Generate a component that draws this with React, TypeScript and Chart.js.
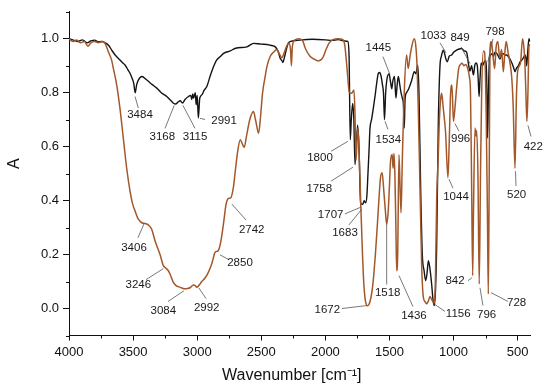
import React, { useEffect, useRef } from 'react';
import { Chart, registerables } from 'chart.js';

Chart.register(...registerables);

// ---- Spectrum 1 (black) ----
const blackWn = [4000, 3965, 3930, 3895, 3860, 3830, 3800, 3770, 3745, 3718, 3690, 3667, 3640, 3602, 3580, 3563, 3540, 3524, 3505, 3495, 3484, 3472, 3459, 3432, 3393, 3350, 3315, 3280, 3237, 3200, 3185, 3168, 3150, 3133, 3115, 3095, 3068, 3050, 3042, 3035, 3028, 3015, 3008, 3000, 2991, 2980, 2964, 2945, 2925, 2900, 2872, 2850, 2820, 2794, 2742, 2700, 2612, 2560, 2500, 2456, 2420, 2391, 2370, 2352, 2340, 2331, 2320, 2305, 2290, 2270, 2200, 2100, 2000, 1950, 1900, 1850, 1825, 1815, 1806, 1798, 1787, 1778, 1769, 1760, 1748, 1738, 1725, 1709, 1697, 1686, 1676, 1668, 1660, 1652, 1640, 1626, 1612, 1600, 1587, 1576, 1565, 1555, 1547, 1539, 1530, 1520, 1503, 1492, 1482, 1475, 1461, 1450, 1440, 1431, 1420, 1410, 1400, 1392, 1385, 1378, 1367, 1350, 1327, 1307, 1294, 1280, 1270, 1257, 1244, 1230, 1218, 1207, 1197, 1185, 1171, 1160, 1150, 1140, 1132, 1119, 1106, 1095, 1081, 1070, 1060, 1048, 1035, 1015, 1000, 976, 956, 937, 918, 898, 885, 872, 860, 845, 835, 826, 815, 808, 801, 794, 785, 775, 765, 752, 742, 735, 728, 720, 711, 700, 690, 677, 662, 650, 638, 625, 612, 600, 586, 575, 560, 545, 530, 521, 510, 495, 480, 469, 455, 443, 435, 430, 422, 412, 405];
const blackA = [1.0, 0.995, 0.99, 0.996, 0.985, 0.992, 0.995, 0.988, 0.99, 0.985, 0.975, 0.958, 0.94, 0.921, 0.91, 0.903, 0.885, 0.872, 0.85, 0.835, 0.80, 0.83, 0.847, 0.86, 0.847, 0.83, 0.817, 0.80, 0.786, 0.768, 0.761, 0.758, 0.765, 0.77, 0.762, 0.775, 0.786, 0.79, 0.775, 0.795, 0.78, 0.80, 0.755, 0.79, 0.706, 0.78, 0.792, 0.81, 0.823, 0.86, 0.897, 0.92, 0.934, 0.946, 0.955, 0.965, 0.97, 0.983, 0.98, 0.979, 0.975, 0.97, 0.955, 0.927, 0.92, 0.912, 0.93, 0.96, 0.983, 0.99, 0.995, 0.998, 0.996, 0.994, 0.997, 0.992, 0.99, 0.93, 0.626, 0.70, 0.76, 0.70, 0.534, 0.60, 0.68, 0.60, 0.39, 0.386, 0.40, 0.392, 0.42, 0.50, 0.58, 0.669, 0.70, 0.743, 0.79, 0.835, 0.872, 0.875, 0.86, 0.83, 0.80, 0.70, 0.80, 0.85, 0.87, 0.84, 0.815, 0.84, 0.86, 0.78, 0.83, 0.86, 0.83, 0.80, 0.78, 0.76, 0.669, 0.78, 0.80, 0.815, 0.845, 0.878, 0.87, 0.903, 0.80, 0.448, 0.20, 0.14, 0.103, 0.13, 0.177, 0.15, 0.09, 0.03, 0.011, 0.08, 0.23, 0.69, 0.90, 0.935, 0.958, 0.945, 0.925, 0.915, 0.935, 0.94, 0.95, 0.958, 0.962, 0.964, 0.955, 0.95, 0.91, 0.88, 0.90, 0.866, 0.90, 0.91, 0.90, 0.85, 0.786, 0.85, 0.91, 0.90, 0.91, 0.92, 0.86, 0.632, 0.80, 0.93, 0.94, 0.945, 0.935, 0.95, 0.945, 0.935, 0.925, 0.94, 0.945, 0.94, 0.94, 0.935, 0.925, 0.91, 0.89, 0.878, 0.89, 0.90, 0.915, 0.92, 0.93, 0.94, 0.925, 0.90, 0.95, 1.0, 0.99];

// ---- Spectrum 2 (brown) ----
const brownWn = [4000, 3970, 3940, 3910, 3880, 3852, 3830, 3800, 3770, 3740, 3719, 3693, 3667, 3654, 3628, 3602, 3576, 3550, 3524, 3505, 3485, 3459, 3432, 3406, 3381, 3355, 3329, 3290, 3264, 3246, 3225, 3212, 3186, 3165, 3147, 3120, 3095, 3075, 3056, 3030, 3015, 3004, 2990, 2978, 2965, 2939, 2913, 2887, 2870, 2861, 2847, 2835, 2817, 2796, 2775, 2757, 2739, 2718, 2703, 2685, 2664, 2648, 2633, 2615, 2590, 2561, 2545, 2521, 2508, 2490, 2470, 2456, 2430, 2405, 2378, 2360, 2340, 2320, 2300, 2285, 2272, 2265, 2258, 2240, 2210, 2180, 2156, 2120, 2090, 2055, 2020, 1995, 1970, 1940, 1900, 1870, 1855, 1847, 1829, 1813, 1795, 1777, 1769, 1762, 1755, 1748, 1740, 1724, 1712, 1700, 1690, 1680, 1672, 1660, 1645, 1632, 1622, 1610, 1596, 1583, 1570, 1557, 1545, 1530, 1522, 1510, 1500, 1492, 1479, 1472, 1465, 1458, 1450, 1444, 1436, 1426, 1418, 1410, 1400, 1385, 1367, 1354, 1340, 1327, 1307, 1295, 1285, 1276, 1262, 1249, 1236, 1222, 1210, 1195, 1184, 1172, 1160, 1150, 1142, 1132, 1119, 1111, 1100, 1093, 1080, 1063, 1044, 1035, 1023, 1013, 1001, 990, 976, 960, 945, 933, 920, 905, 890, 877, 868, 859, 851, 845, 833, 826, 820, 810, 800, 790, 781, 768, 758, 745, 736, 729, 722, 716, 706, 695, 680, 668, 655, 640, 625, 612, 600, 590, 575, 560, 547, 535, 521, 510, 500, 478, 462, 450, 443, 436, 428, 420, 412, 405];
const brownA = [1.0, 0.99, 0.995, 0.985, 0.99, 0.972, 0.985, 0.99, 0.985, 0.99, 0.983, 0.952, 0.92, 0.89, 0.829, 0.74, 0.63, 0.52, 0.435, 0.39, 0.362, 0.331, 0.318, 0.315, 0.31, 0.294, 0.251, 0.20, 0.159, 0.15, 0.14, 0.128, 0.097, 0.085, 0.081, 0.076, 0.073, 0.074, 0.077, 0.087, 0.085, 0.079, 0.084, 0.091, 0.10, 0.113, 0.134, 0.165, 0.195, 0.208, 0.212, 0.215, 0.245, 0.31, 0.386, 0.408, 0.41, 0.448, 0.509, 0.58, 0.626, 0.61, 0.598, 0.64, 0.70, 0.73, 0.70, 0.65, 0.70, 0.80, 0.86, 0.897, 0.935, 0.95, 0.96, 0.945, 0.93, 0.95, 0.975, 0.983, 0.96, 0.90, 0.97, 0.995, 1.0, 0.995, 0.964, 0.935, 0.925, 0.918, 0.93, 0.96, 0.985, 0.997, 1.0, 0.998, 0.99, 0.97, 0.878, 0.80, 0.798, 0.81, 0.72, 0.55, 0.60, 0.669, 0.62, 0.386, 0.22, 0.09, 0.035, 0.015, 0.01, 0.015, 0.04, 0.08, 0.128, 0.20, 0.30, 0.40, 0.485, 0.503, 0.44, 0.35, 0.313, 0.36, 0.46, 0.546, 0.571, 0.52, 0.575, 0.50, 0.30, 0.14, 0.20, 0.57, 0.46, 0.355, 0.55, 0.80, 0.94, 0.89, 0.935, 0.97, 1.0, 0.975, 0.90, 0.755, 0.448, 0.16, 0.042, 0.025, 0.018, 0.03, 0.045, 0.035, 0.025, 0.02, 0.10, 0.40, 0.571, 0.70, 0.78, 0.798, 0.74, 0.657, 0.485, 0.60, 0.80, 0.829, 0.694, 0.74, 0.82, 0.89, 0.905, 0.909, 0.90, 0.905, 0.89, 0.86, 0.80, 0.448, 0.122, 0.35, 0.669, 0.64, 0.66, 0.50, 0.091, 0.50, 0.80, 0.955, 0.95, 0.70, 0.35, 0.054, 0.50, 0.96, 0.99, 0.95, 0.89, 0.97, 0.99, 0.93, 0.96, 0.878, 0.95, 0.99, 0.95, 0.91, 0.86, 0.75, 0.52, 0.78, 0.88, 0.91, 1.0, 0.96, 0.90, 0.80, 0.694, 0.80, 0.97, 0.98];

// ---- Axes ----
const xMajorTicks = [4000, 3500, 3000, 2500, 2000, 1500, 1000, 500];
const xMinorTicks = [3750, 3250, 2750, 2250, 1750, 1250, 750];
const yMajorTicks = [0.0, 0.2, 0.4, 0.6, 0.8, 1.0];
const yMinorTicks = [-0.1, 0.1, 0.3, 0.5, 0.7, 0.9, 1.1];
const xTitle = 'Wavenumber [cm⁻¹]';
const yTitle = 'A';

// ---- Peak annotations ----
const peakLabels = ['3484', '3168', '3115', '2991', '3406', '3246', '3084', '2992', '2850', '2742', '1800', '1758', '1707', '1683', '1672', '1518', '1436', '1156', '842', '796', '728', '1534', '1445', '1033', '849', '798', '996', '1044', '520', '422'];
const labelWn = [3446, 3272, 3017, 2790, 3493, 3459, 3264, 2926, 2666, 2575, 2042, 2048, 1959, 1847, 1985, 1514, 1309, 964, 989, 742, 508, 1509, 1587, 1158, 950, 677, 945, 981, 508, 378];
const labelA = [0.718, 0.635, 0.635, 0.696, 0.224, 0.089, -0.01, 0.003, 0.171, 0.291, 0.558, 0.442, 0.347, 0.279, -0.005, 0.058, -0.028, -0.02, 0.103, -0.023, 0.02, 0.626, 0.968, 1.01, 1.004, 1.026, 0.63, 0.413, 0.42, 0.601];
const leadFromWn = [3459, 3251, 3017, 2939, 3462, 3399, 3228, 2931, 2752, 2619, 1956, 1956, 1847, 1816, 1871, 1522, 1317, 1067, 888, 771, 576, 1512, 1551, 1106, 942, 693, 958, 1005, 513, 396];
const leadFromA = [0.743, 0.668, 0.668, 0.701, 0.262, 0.107, 0.026, 0.037, 0.181, 0.328, 0.583, 0.472, 0.351, 0.31, 0.0, 0.089, 0.007, -0.011, 0.103, 0.011, 0.026, 0.664, 0.934, 0.985, 0.97, 1.0, 0.657, 0.446, 0.454, 0.638];
const leadToWn = [3485, 3179, 3111, 2978, 3415, 3264, 3103, 2988, 2822, 2729, 1824, 1785, 1722, 1715, 1676, 1522, 1426, 1155, 857, 794, 708, 1535, 1496, 1059, 872, 732, 989, 1036, 517, 420];
const leadToA = [0.786, 0.753, 0.753, 0.705, 0.314, 0.148, 0.066, 0.077, 0.199, 0.387, 0.62, 0.524, 0.376, 0.369, 0.011, 0.314, 0.122, 0.018, 0.114, 0.077, 0.059, 0.694, 0.867, 0.948, 0.908, 0.915, 0.686, 0.48, 0.509, 0.679];

const FONT = '"Liberation Sans", Arial, sans-serif';

function toPoints(wn: number[], a: number[]) {
  return wn.map((x, i) => ({ x, y: a[i] })).sort((p, q) => p.x - q.x);
}

const extrasPlugin = {
  id: 'irExtras',
  afterDraw(chart: any) {
    const ctx = chart.ctx;
    const xs = chart.scales.x;
    const ys = chart.scales.y;
    const area = chart.chartArea;
    ctx.save();
    // minor ticks
    ctx.strokeStyle = '#111';
    ctx.lineWidth = 1;
    ctx.beginPath();
    xMinorTicks.forEach((v) => {
      const px = Math.round(xs.getPixelForValue(v)) + 0.5;
      ctx.moveTo(px, area.bottom);
      ctx.lineTo(px, area.bottom + 3);
    });
    yMinorTicks.forEach((v) => {
      const py = Math.round(ys.getPixelForValue(v)) + 0.5;
      ctx.moveTo(area.left - 3, py);
      ctx.lineTo(area.left, py);
    });
    ctx.stroke();

    // leader lines
    ctx.strokeStyle = '#555';
    ctx.lineWidth = 0.8;
    ctx.beginPath();
    peakLabels.forEach((_, i) => {
      ctx.moveTo(xs.getPixelForValue(leadFromWn[i]), ys.getPixelForValue(leadFromA[i]));
      ctx.lineTo(xs.getPixelForValue(leadToWn[i]), ys.getPixelForValue(leadToA[i]));
    });
    ctx.stroke();

    // labels
    ctx.fillStyle = '#1a1a1a';
    ctx.font = '11.5px ' + FONT;
    ctx.textAlign = 'center';
    ctx.textBaseline = 'middle';
    peakLabels.forEach((t, i) => {
      ctx.fillText(t, xs.getPixelForValue(labelWn[i]), ys.getPixelForValue(labelA[i]));
    });

    // axis titles
    ctx.fillStyle = '#111';
    ctx.font = '16px ' + FONT;
    ctx.fillText(xTitle, (area.left + area.right) / 2 - 8, 376);
    ctx.save();
    ctx.translate(15, (area.top + area.bottom) / 2 - 10);
    ctx.rotate(-Math.PI / 2);
    ctx.fillText(yTitle, 0, 0);
    ctx.restore();
    ctx.restore();
  },
};

export default function App() {
  const ref = useRef<HTMLCanvasElement | null>(null);
  useEffect(() => {
    if (!ref.current) return;
    const chart = new Chart(ref.current, {
      type: 'line',
      data: {
        datasets: [
          {
            label: 'Brown',
            data: toPoints(brownWn, brownA),
            borderColor: '#a3582a',
            borderWidth: 1.5,
            pointRadius: 0,
            fill: false,
            cubicInterpolationMode: 'monotone',
            order: 0,
          },
          {
            label: 'Black',
            data: toPoints(blackWn, blackA),
            borderColor: '#141414',
            borderWidth: 1.4,
            pointRadius: 0,
            fill: false,
            cubicInterpolationMode: 'monotone',
            order: 1,
          },
        ],
      },
      options: {
        animation: false,
        responsive: false,
        devicePixelRatio: 1,
        layout: { padding: { top: 10, right: 19.5, left: 0, bottom: 0 } },
        plugins: { legend: { display: false }, tooltip: { enabled: false } },
        scales: {
          x: {
            type: 'linear',
            reverse: true,
            min: 400,
            max: 4000,
            afterBuildTicks: (s: any) => {
              s.ticks = xMajorTicks.map((v) => ({ value: v }));
            },
            afterFit: (s: any) => {
              s.height = 53.5;
            },
            ticks: {
              autoSkip: false,
              maxRotation: 0,
              padding: 4,
              color: '#111',
              font: { family: FONT, size: 13 },
              callback: (v: any) => String(v),
            },
            grid: { display: true, drawOnChartArea: false, drawTicks: true, tickLength: 5, color: '#111' },
            border: { display: true, color: '#111', width: 1 },
          },
          y: {
            type: 'linear',
            min: -0.1,
            max: 1.1,
            afterBuildTicks: (s: any) => {
              s.ticks = yMajorTicks.map((v) => ({ value: v }));
            },
            afterFit: (s: any) => {
              s.width = 69;
            },
            ticks: {
              autoSkip: false,
              padding: 4,
              color: '#111',
              font: { family: FONT, size: 13 },
              callback: (v: any) => Number(v).toFixed(1),
            },
            grid: { display: true, drawOnChartArea: false, drawTicks: true, tickLength: 6, color: '#111' },
            border: { display: true, color: '#111', width: 1 },
          },
        },
      },
      plugins: [extrasPlugin],
    } as any);
    return () => chart.destroy();
  }, []);
  return (
    <div style={{ position: 'absolute', left: 0, top: 0, width: 550, height: 389, background: '#fff' }}>
      <canvas ref={ref} width={550} height={389} style={{ display: 'block', width: 550, height: 389 }} />
    </div>
  );
}
